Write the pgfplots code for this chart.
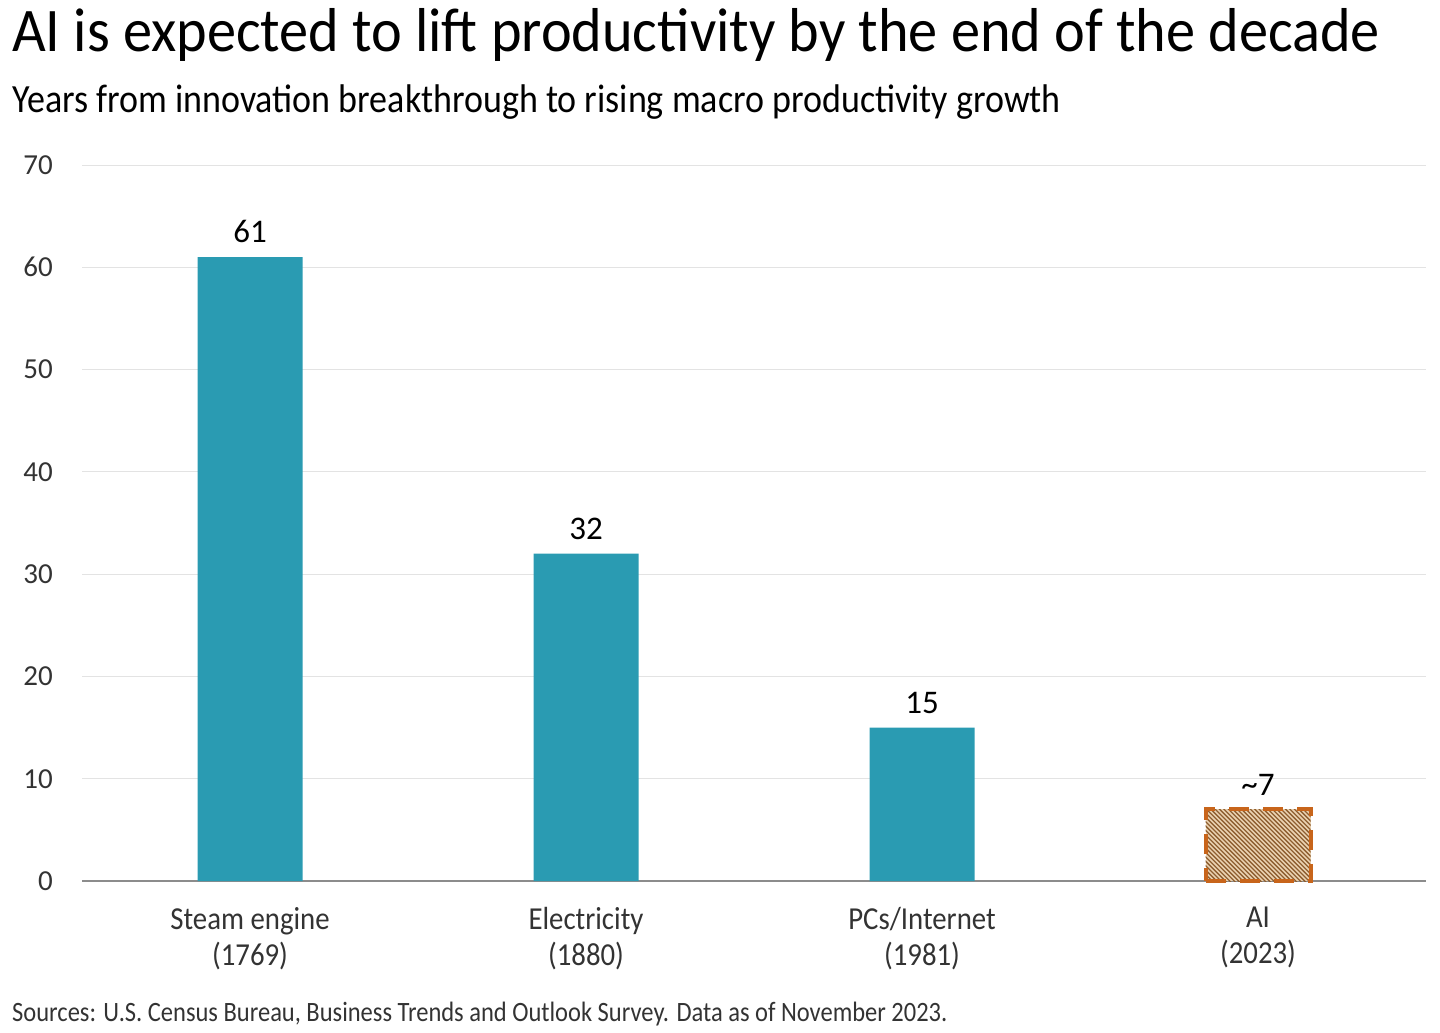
\documentclass[border=0pt]{standalone}
\usepackage{fontspec}
\setmainfont{Carlito}
\newfontfamily\titlefont{Carlito}[FakeStretch=0.94]
\newfontfamily\subfont{Carlito}[FakeStretch=0.9]
\newfontfamily\condfont{Carlito}[FakeStretch=0.9]
\newfontfamily\srcfont{Carlito}[FakeStretch=0.875]
\usepackage{pgfplots}
\pgfplotsset{compat=1.18}

\definecolor{barteal}{HTML}{2A9BB2}
\definecolor{aifill}{HTML}{EBD3B2}
\definecolor{aihatch}{HTML}{8E5E30}
\definecolor{aiedge}{HTML}{C8651B}
\definecolor{gridgray}{HTML}{E3E3E3}
\definecolor{axisgray}{HTML}{8C8C8C}
\definecolor{txtgray}{HTML}{333333}

\begin{document}
\begin{tikzpicture}
\path[use as bounding box] (0pt,0pt) rectangle (1440pt,-1033pt);

\node[anchor=base west, inner sep=0, text=black] at (12pt,-52pt)
  {\titlefont\fontsize{62}{70}\selectfont AI is expected to lift productivity by the end of the decade};
\node[anchor=base west, inner sep=0, text=black] at (12pt,-112pt)
  {\subfont\fontsize{40}{46}\selectfont Years from innovation breakthrough to rising macro productivity growth};

\begin{axis}[
  at={(82pt,-881pt)}, anchor=south west,
  scale only axis, width=1344pt, height=716pt,
  xmin=-0.5, xmax=3.5, ymin=0, ymax=70,
  ytick={0,10,...,70},
  xtick={0,1,2,3},
  xticklabels={{Steam engine\\(1769)},{Electricity\\(1880)},{PCs/Internet\\(1981)},{AI\\(2023)}},
  major tick length=0pt,
  axis x line*=bottom, axis y line*=left,
  x axis line style={-, axisgray, line width=2pt},
  y axis line style={draw=none},
  ymajorgrids, grid style={gridgray, line width=1pt},
  /pgf/number format/assume math mode=true,
  yticklabel style={anchor=east, inner sep=0pt, xshift=-29pt, text=txtgray, font=\fontsize{29}{34}\selectfont},
  xticklabel style={anchor=north, align=center, inner sep=0pt, yshift=-26pt, text=txtgray, font=\condfont\fontsize{32}{36}\selectfont},
  ybar, bar width=105pt, bar shift=0pt,
  every node near coord/.append style={anchor=south, inner sep=0pt, yshift=14pt, text=black, font=\fontsize{33}{38}\selectfont},
  clip=false,
]
\addplot[fill=barteal, draw=none, nodes near coords] coordinates {(0,61) (1,32) (2,15)};
\addplot[fill=aifill, draw=none] coordinates {(3,7)};
% hatching of the AI bar
\begin{scope}
  \clip ([xshift=-52.5pt]axis cs:3,0) rectangle ([xshift=52.5pt]axis cs:3,7);
  \pgfplotsinvokeforeach{0,...,45}{
    \draw[aihatch, line width=1.3pt]
      ([xshift=#1*4.4pt-140pt, yshift=5pt]axis cs:3,7) -- ++(100pt,-100pt);}
\end{scope}
\addplot[fill=none, draw=aiedge, line width=4pt, dash pattern=on 20pt off 14pt,
  nodes near coords={\textasciitilde7},
  every node near coord/.append style={yshift=-2pt}]
  coordinates {(3,7)};
\end{axis}

\node[anchor=base west, inner sep=0, text=txtgray] at (12pt,-1021pt)
  {\srcfont\fontsize{28}{32}\selectfont Sources: U.S. Census Bureau, Business Trends and Outlook Survey. Data as of November 2023.};
\end{tikzpicture}
\end{document}
